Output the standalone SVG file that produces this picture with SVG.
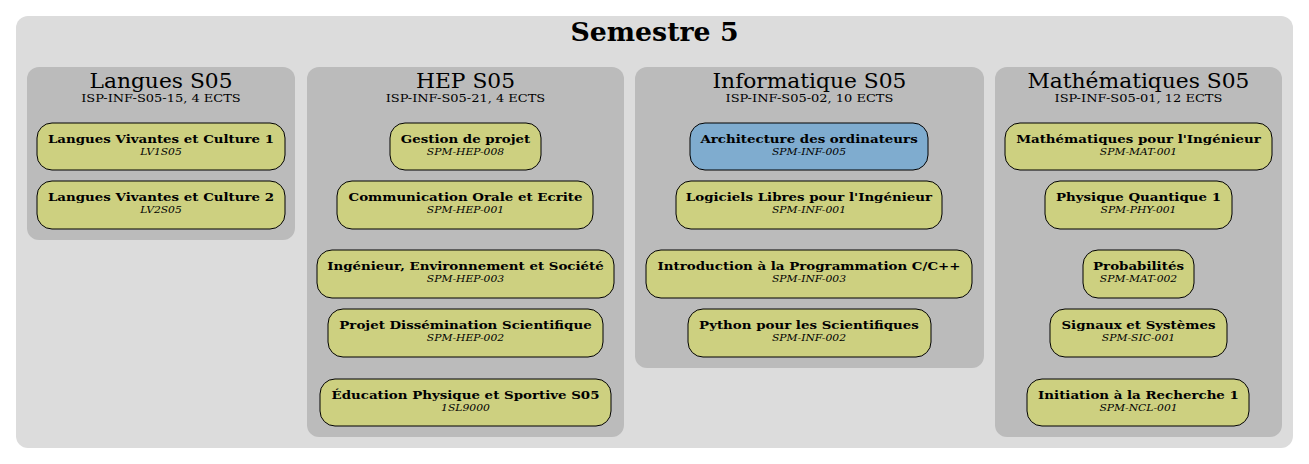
<svg xmlns="http://www.w3.org/2000/svg" width="1309" height="464" viewBox="0 0 1309 464">
<style>
.bg{fill:#ffffff}
.outer{fill:#dcdcdc;stroke:none}
.cl{fill:#bbbbbb;stroke:none}
.n{fill:#cdd080;stroke:#000;stroke-width:1}
.nb{fill:#7faccf;stroke:#000;stroke-width:1}
text{font-family:"DejaVu Serif","Liberation Serif",serif;text-anchor:middle;fill:#000;transform-box:fill-box;transform-origin:center}
.t{font-size:26px;font-weight:bold;transform:scaleX(1.03)}
.ct{font-size:20.5px;transform:scaleX(1.063)}
.cs{font-size:11.6px;transform:scaleX(1.12)}
.l{font-size:11.8px;font-weight:bold;transform:scaleX(1.135)}
.c{font-size:9.7px;font-style:italic;transform:scaleX(1.11)}
</style>
<rect class="bg" x="0" y="0" width="1309" height="464"/>
<g id="semestre5">
<rect class="outer" x="16" y="16" width="1277" height="432" rx="12"/>
<text class="t" x="654.5" y="41">Semestre 5</text>
</g>
<g id="cluster_langues">
<rect class="cl" x="27" y="67" width="268" height="173" rx="12"/>
<text class="ct" x="161" y="88">Langues S05</text>
<text class="cs" x="161" y="102.5">ISP-INF-S05-15, 4 ECTS</text>
</g>
<g id="cluster_hep">
<rect class="cl" x="307" y="67" width="317" height="370" rx="12"/>
<text class="ct" x="465.5" y="88">HEP S05</text>
<text class="cs" x="465.5" y="102.5">ISP-INF-S05-21, 4 ECTS</text>
</g>
<g id="cluster_info">
<rect class="cl" x="635" y="67" width="349" height="301" rx="12"/>
<text class="ct" x="809.5" y="88">Informatique S05</text>
<text class="cs" x="809.5" y="102.5">ISP-INF-S05-02, 10 ECTS</text>
</g>
<g id="cluster_math">
<rect class="cl" x="995" y="67" width="287" height="370" rx="12"/>
<text class="ct" x="1138.5" y="88">Mathématiques S05</text>
<text class="cs" x="1138.5" y="102.5">ISP-INF-S05-01, 12 ECTS</text>
</g>
<g id="LV1S05">
<rect class="n" x="37" y="123" width="248" height="47" rx="15"/>
<text class="l" x="161" y="143.5">Langues Vivantes et Culture 1</text>
<text class="c" x="161" y="155">LV1S05</text>
</g>
<g id="LV2S05">
<rect class="n" x="37" y="181" width="248" height="48" rx="15"/>
<text class="l" x="161" y="201.5">Langues Vivantes et Culture 2</text>
<text class="c" x="161" y="213">LV2S05</text>
</g>
<g id="SPM-HEP-008">
<rect class="n" x="390" y="123" width="151" height="47" rx="15"/>
<text class="l" x="465.5" y="143.5">Gestion de projet</text>
<text class="c" x="465.5" y="155">SPM-HEP-008</text>
</g>
<g id="SPM-HEP-001">
<rect class="n" x="337" y="181" width="256" height="48" rx="15"/>
<text class="l" x="465.5" y="201.5">Communication Orale et Ecrite</text>
<text class="c" x="465.5" y="213">SPM-HEP-001</text>
</g>
<g id="SPM-HEP-003">
<rect class="n" x="317" y="250" width="297" height="48" rx="15"/>
<text class="l" x="465.5" y="270.5">Ingénieur, Environnement et Société</text>
<text class="c" x="465.5" y="282">SPM-HEP-003</text>
</g>
<g id="SPM-HEP-002">
<rect class="n" x="328" y="309" width="275" height="48" rx="15"/>
<text class="l" x="465.5" y="329.5">Projet Dissémination Scientifique</text>
<text class="c" x="465.5" y="341">SPM-HEP-002</text>
</g>
<g id="1SL9000">
<rect class="n" x="320" y="379" width="291" height="47" rx="15"/>
<text class="l" x="465.5" y="399.5">Éducation Physique et Sportive S05</text>
<text class="c" x="465.5" y="411">1SL9000</text>
</g>
<g id="SPM-INF-005">
<rect class="nb" x="690" y="123" width="238" height="47" rx="15"/>
<text class="l" x="809" y="143.5">Architecture des ordinateurs</text>
<text class="c" x="809" y="155">SPM-INF-005</text>
</g>
<g id="SPM-INF-001">
<rect class="n" x="676" y="181" width="266" height="48" rx="15"/>
<text class="l" x="809" y="201.5">Logiciels Libres pour l'Ingénieur</text>
<text class="c" x="809" y="213">SPM-INF-001</text>
</g>
<g id="SPM-INF-003">
<rect class="n" x="646" y="250" width="326" height="48" rx="15"/>
<text class="l" x="809" y="270.5">Introduction à la Programmation C/C++</text>
<text class="c" x="809" y="282">SPM-INF-003</text>
</g>
<g id="SPM-INF-002">
<rect class="n" x="688" y="309" width="243" height="48" rx="15"/>
<text class="l" x="809" y="329.5">Python pour les Scientifiques</text>
<text class="c" x="809" y="341">SPM-INF-002</text>
</g>
<g id="SPM-MAT-001">
<rect class="n" x="1005" y="123" width="267" height="47" rx="15"/>
<text class="l" x="1138.5" y="143.5">Mathématiques pour l'Ingénieur</text>
<text class="c" x="1138.5" y="155">SPM-MAT-001</text>
</g>
<g id="SPM-PHY-001">
<rect class="n" x="1045" y="181" width="187" height="48" rx="15"/>
<text class="l" x="1138.5" y="201.5">Physique Quantique 1</text>
<text class="c" x="1138.5" y="213">SPM-PHY-001</text>
</g>
<g id="SPM-MAT-002">
<rect class="n" x="1083" y="250" width="111" height="48" rx="15"/>
<text class="l" x="1138.5" y="270.5">Probabilités</text>
<text class="c" x="1138.5" y="282">SPM-MAT-002</text>
</g>
<g id="SPM-SIC-001">
<rect class="n" x="1050" y="309" width="177" height="48" rx="15"/>
<text class="l" x="1138.5" y="329.5">Signaux et Systèmes</text>
<text class="c" x="1138.5" y="341">SPM-SIC-001</text>
</g>
<g id="SPM-NCL-001">
<rect class="n" x="1027" y="379" width="222" height="47" rx="15"/>
<text class="l" x="1138.5" y="399.5">Initiation à la Recherche 1</text>
<text class="c" x="1138.5" y="411">SPM-NCL-001</text>
</g>
<g id="connectors"></g>
</svg>
